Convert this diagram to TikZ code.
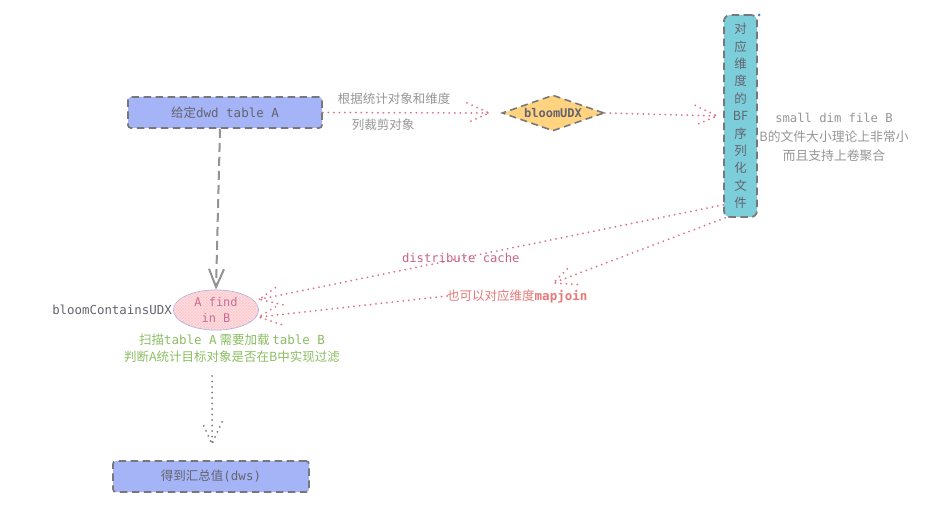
\documentclass[tikz,border=0pt]{standalone}
\usepackage{fontspec}
\newfontfamily\cjk{Noto Sans CJK SC}
\newfontfamily\mono{DejaVu Sans Mono}
\usetikzlibrary{shapes.geometric,arrows.meta,patterns,decorations.markings}
\definecolor{boxblue}{RGB}{165,180,247}
\definecolor{dyellow}{RGB}{255,211,128}
\definecolor{cyanbox}{RGB}{125,206,219}
\definecolor{pinkline}{RGB}{222,112,135}
\definecolor{dgray}{RGB}{120,120,120}
\definecolor{lgray}{RGB}{150,150,150}
\definecolor{tgray}{RGB}{100,100,110}
\definecolor{gtext}{RGB}{140,190,100}
\definecolor{cachepink}{RGB}{200,100,135}
\definecolor{mapred}{RGB}{232,120,120}
\definecolor{eborder}{RGB}{160,175,230}
\definecolor{efill}{RGB}{252,225,232}
\definecolor{etext}{RGB}{200,110,150}
\definecolor{dotblue}{RGB}{70,130,220}
\tikzset{
  sketchbox/.style={draw=dgray, line width=1.7pt, dash pattern=on 7.5pt off 4.5pt, rounded corners=3pt, inner sep=0pt},
  pinkdot/.style={draw=pinkline, line width=2pt, line cap=round, dash pattern=on 0pt off 5.5pt},
  graydot/.style={draw=dgray, line width=2pt, line cap=round, dash pattern=on 0pt off 5.5pt},
  chev/.style={postaction={decorate, decoration={markings, mark=at position 0.999 with {\draw[#1] (-22pt,10pt) -- (0pt,0pt) -- (-22pt,-10pt);}}}},
  txt/.style={font=\fontsize{12}{15}\selectfont, inner sep=0pt},
}
\begin{document}
\begin{tikzpicture}[x=1pt,y=-1pt]
\useasboundingbox[fill=white] (0,0) rectangle (933,510);

% nodes
\node[sketchbox, fill=boxblue, minimum width=194pt, minimum height=31pt, font=\fontsize{12.5}{15}\selectfont, text=tgray] (A) at (225,112.5) {{\cjk 给定}{\mono dwd table A}};
\node[diamond, draw=dgray, line width=1.6pt, dash pattern=on 7pt off 4.5pt, fill=dyellow, aspect=2.8, minimum width=102pt, minimum height=36pt, inner sep=0pt, txt, text=tgray] (D) at (553,113) {\mono\bfseries bloomUDX};
\node[sketchbox, rounded corners=6pt, fill=cyanbox, minimum width=33pt, minimum height=202pt, align=center, font=\cjk\fontsize{12.5}{17.4}\selectfont, text=tgray] (V) at (740.5,116) {对\\应\\维\\度\\的\\BF\\序\\列\\化\\文\\件};
\fill[dotblue] (759,15) circle (1.5pt);
\node[ellipse, draw=eborder, line width=0.8pt, fill=efill, postaction={pattern=crosshatch, pattern color=pink!85}, minimum width=85pt, minimum height=40pt, inner sep=0pt, align=center, font=\mono\fontsize{12}{16}\selectfont, text=etext] (E) at (216,310) {A find\\in B};
\node[sketchbox, fill=boxblue, minimum width=196pt, minimum height=31pt, font=\fontsize{12.5}{15}\selectfont, text=tgray] (F) at (211,476.5) {{\cjk 得到汇总值}{\mono (dws)}};

% labels
\node[txt, text=lgray, font=\cjk\fontsize{12.5}{15}\selectfont] (L1) at (394,99) {根据统计对象和维度};
\node[txt, text=lgray, font=\cjk\fontsize{12.5}{15}\selectfont] (L2) at (383,125) {列裁剪对象};
\node[txt, text=lgray, align=center, font=\cjk\fontsize{12.8}{19}\selectfont] (R) at (834,137) {{\mono\fontsize{12.2}{19}\selectfont small dim file B}\\B的文件大小理论上非常小\\而且支持上卷聚合};
\node[txt, text=tgray, font=\mono\fontsize{12.4}{15}\selectfont] (BC) at (112,310) {bloomContainsUDX};
\node[txt, text=gtext, align=center, font=\cjk\fontsize{12.5}{17.5}\selectfont] (G) at (232,348.5) {扫描{\mono table A} 需要加载 {\mono table B}\\判断A统计目标对象是否在B中实现过滤};

% connectors
\draw[pinkdot, chev=pinkdot] (A.east) -- ([xshift=-12pt]D.west);
\draw[pinkdot, chev=pinkdot] (D.east) -- ([xshift=-6pt]V.west);
\draw[draw=dgray!80, line width=2pt, dash pattern=on 9pt off 5pt, -{Straight Barb[length=18pt,width=15pt]}] ([xshift=-5pt]A.south) -- (E.north);
\draw[pinkdot, chev=pinkdot] ([yshift=13pt]V.south west) -- node[txt, text=cachepink, font=\mono\fontsize{12.2}{15}\selectfont, pos=0.565] (DC) {distribute cache} ([xshift=6pt]E.16);
\node[txt, text=mapred, anchor=west, font=\cjk\fontsize{12.5}{15}\selectfont] (M) at (447,296) {也可以对应维度{\mono\bfseries mapjoin}};
\coordinate (mj) at (553,283);
\draw[pinkdot, chev=pinkdot] ([xshift=2pt]V.south west) -- (mj);
\draw[pinkdot, chev=pinkdot] (M.west) -- ([xshift=2pt]E.-10);
\coordinate (d1) at (212,376);
\coordinate (d2) at (212,444);
\draw[graydot, chev=graydot] (d1) -- (d2);
\end{tikzpicture}
\end{document}
